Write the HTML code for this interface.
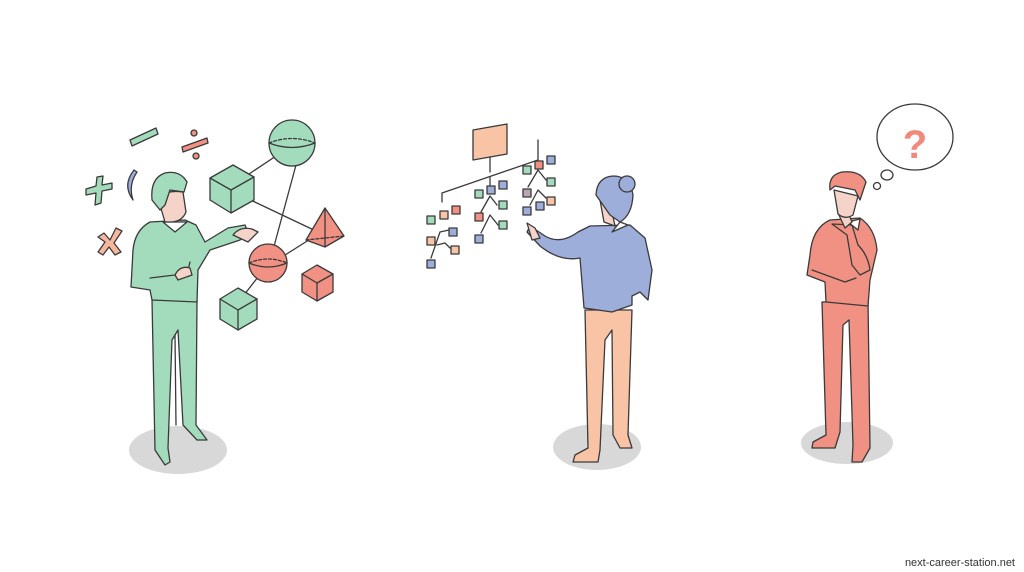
<!DOCTYPE html>
<html><head><meta charset="utf-8"><style>
html,body{margin:0;padding:0;background:#fff;}
svg{display:block}
</style></head><body>
<svg width="1024" height="572" viewBox="0 0 1024 572" xmlns="http://www.w3.org/2000/svg">
<rect width="1024" height="572" fill="#fff"/>
<g stroke="#3a3a3a" stroke-width="1.3" stroke-linejoin="round" stroke-linecap="round">
<ellipse cx="178" cy="450" rx="49" ry="24" fill="#d8d8d8" stroke="none"/>
<line x1="240" y1="180" x2="285" y2="150" />
<line x1="240" y1="195" x2="318" y2="232" />
<line x1="296" y1="165" x2="273" y2="250" />
<line x1="285" y1="255" x2="312" y2="238" />
<line x1="258" y1="277" x2="244" y2="295" />
<circle cx="292" cy="143" r="23" fill="#a3dcbd"/>
<path d="M269 143 Q292 152 315 143" fill="none"/>
<path d="M269 143 Q292 134 315 143" fill="none" stroke-dasharray="3 2"/>
<polygon points="210,178 233,165 254,177 254,200 231,213 210,200" fill="#a3dcbd"/>
<polyline points="210,178 231,190 254,177" fill="none"/>
<line x1="231" y1="190" x2="231" y2="213"/>
<polygon points="325,208 306,240 325,247 344,236" fill="#f19183"/>
<line x1="325" y1="208" x2="325" y2="247"/>
<line x1="306" y1="240" x2="344" y2="236" stroke-dasharray="3 2"/>
<circle cx="268" cy="263" r="19" fill="#f19183"/>
<path d="M249 263 Q268 271 287 263" fill="none"/>
<path d="M249 263 Q268 255 287 263" fill="none" stroke-dasharray="3 2"/>
<polygon points="302,274 317,265 333,274 333,292 317,301 302,292" fill="#f19183"/>
<polyline points="302,274 317,283 333,274" fill="none"/>
<line x1="317" y1="283" x2="317" y2="301"/>
<polygon points="220,299 238,288 257,299 257,319 238,330 220,319" fill="#a3dcbd"/>
<polyline points="220,299 238,310 257,299" fill="none"/>
<line x1="238" y1="310" x2="238" y2="330"/>
<polygon points="130,140 156,128 158,134 132,146" fill="#a3dcbd"/>
<polygon points="182,147 207,138 208,143 183,152" fill="#f19183"/>
<circle cx="194" cy="133" r="3" fill="#f19183"/>
<circle cx="196" cy="156" r="3" fill="#f19183"/>
<path d="M86,189 L96,186 L97,177 L103,176 L102,185 L112,183 L112,189 L102,191 L101,203 L95,205 L96,193 L86,195Z" fill="#a3dcbd"/>
<path d="M134,170 Q122,185 133,200 Q128,185 137,172Z" fill="#9eaedb"/>
<path d="M98,237 L104,233 L110,240 L116,228 L122,231 L114,243 L121,252 L115,255 L109,247 L103,255 L98,252 L105,242Z" fill="#f7b79f"/>
<path d="M152,300 L155,450 L165,465 L170,462 L168,448 L172,340 L178,330 L183,425 L197,440 L207,440 L196,425 L197,300Z" fill="#a3dcbd"/>
<line x1="175" y1="335" x2="176" y2="425"/>
<path d="M150,222 Q135,230 133,250 L131,287 L150,290 L152,300 L197,302 L198,270 L210,250 L240,240 L248,232 L245,225 L228,228 L205,242 L196,225 L185,220 Z" fill="#a3dcbd"/>
<path d="M150,278 L175,275 L188,270 L190,262" fill="none"/>
<path d="M175,275 Q180,265 190,268 L192,275 L178,280Z" fill="#f6d3c8"/>
<polygon points="163,222 175,232 187,222" fill="#fff"/>
<path d="M233,235 Q240,226 252,229 L258,232 L248,242 Z" fill="#f6d3c8"/>
<path d="M160,205 L161,195 Q170,190 183,192 L186,212 Q182,222 170,222 L165,222 Z" fill="#f6d3c8"/>
<path d="M152,200 Q150,178 165,173 Q180,170 187,182 L184,192 L170,190 L165,205 L160,210 Z" fill="#a3dcbd"/>

<ellipse cx="597" cy="447" rx="44" ry="23" fill="#d8d8d8" stroke="none"/>
<polygon points="473,130 507,124 507,154 473,160" fill="#f8c4a5"/>
<polyline points="490,157 490,172" fill="none"/>
<polyline points="442,202 442,193 538,160 538,140" fill="none"/>
<line x1="490" y1="177" x2="490" y2="185"/>
<g>
<rect x="427" y="216" width="8" height="8" fill="#a3dcbd"/>
<rect x="440" y="211" width="8" height="8" fill="#f8c4a5"/>
<rect x="452" y="206" width="8" height="8" fill="#f19183"/>
<rect x="427" y="237" width="8" height="8" fill="#f8c4a5"/>
<rect x="449" y="228" width="8" height="8" fill="#9eaedb"/>
<rect x="427" y="260" width="8" height="8" fill="#9eaedb"/>
<rect x="451" y="246" width="8" height="8" fill="#f8c4a5"/>
<polyline points="431,258 440,232 449,230" fill="none"/>
<polyline points="437,245 445,243 450,248" fill="none"/>
<rect x="475" y="190" width="8" height="8" fill="#a3dcbd"/>
<rect x="487" y="186" width="8" height="8" fill="#9eaedb"/>
<rect x="499" y="181" width="8" height="8" fill="#9eaedb"/>
<rect x="475" y="213" width="8" height="8" fill="#f19183"/>
<rect x="499" y="201" width="8" height="8" fill="#a3dcbd"/>
<rect x="475" y="235" width="8" height="8" fill="#9eaedb"/>
<rect x="499" y="221" width="8" height="8" fill="#a3dcbd"/>
<polyline points="481,212 490,196 497,205" fill="none"/>
<polyline points="481,233 490,215 498,225" fill="none"/>
<rect x="523" y="166" width="8" height="8" fill="#a3dcbd"/>
<rect x="535" y="161" width="8" height="8" fill="#f19183"/>
<rect x="547" y="156" width="8" height="8" fill="#9eaedb"/>
<rect x="523" y="189" width="8" height="8" fill="#b9a8b8"/>
<rect x="547" y="178" width="8" height="8" fill="#a3dcbd"/>
<rect x="523" y="207" width="8" height="8" fill="#9eaedb"/>
<rect x="536" y="202" width="8" height="8" fill="#9eaedb"/>
<rect x="547" y="197" width="8" height="8" fill="#f8c4a5"/>
<polyline points="528,187 538,170 546,180" fill="none"/>
<polyline points="530,205 538,190 546,198" fill="none"/>
</g>
<path d="M585,310 L588,448 L575,455 L573,462 L598,462 L600,450 L605,340 L612,330 L613,435 L620,448 L632,448 L628,435 L632,310Z" fill="#f8c4a5"/>
<path d="M590,226 L578,232 Q560,245 545,236 L530,226 L527,232 L540,246 Q560,262 580,258 L584,308 L612,312 L632,305 L632,296 L640,292 L648,300 L652,270 L645,238 L630,225 Z" fill="#9eaedb"/>
<path d="M527,223 L535,228 L540,238 L532,240 Z" fill="#f6d3c8"/>
<path d="M612,232 L628,225 L620,222 Z" fill="#fff"/>
<path d="M600,200 L604,222 L615,226 L612,212 Z" fill="#f6d3c8"/>
<path d="M596,195 Q597,177 613,176 Q630,176 633,195 Q632,215 620,222 L610,215 Z" fill="#9eaedb"/>
<circle cx="627" cy="184" r="8" fill="#9eaedb"/>

<ellipse cx="847" cy="443" rx="46" ry="21" fill="#d8d8d8" stroke="none"/>
<ellipse cx="915" cy="137" rx="38" ry="33" fill="#fff"/>
<ellipse cx="887" cy="175" rx="6" ry="5" fill="#fff"/>
<circle cx="877" cy="186" r="3.5" fill="#fff"/>
<path d="M822,302 L826,435 L813,442 L812,448 L835,448 L840,432 L843,325 L849,320 L853,445 L852,462 L862,462 L870,448 L868,300 Z" fill="#f19183"/>
<path d="M830,220 Q812,228 810,255 L807,275 L825,282 L826,302 L868,306 L870,280 L877,250 Q875,228 860,218 Z" fill="#f19183"/>
<path d="M832,224 L847,235 L852,265 L860,275 L870,270 Q868,255 858,245 L852,225 Z" fill="#f19183"/>
<path d="M812,270 L845,282 L856,278" fill="none"/>
<polygon points="848,222 858,230 860,219" fill="#fff"/>
<path d="M838,213 L846,208 L852,222 L845,228 Z" fill="#f6d3c8"/>
<path d="M834,190 L838,214 Q845,220 853,215 L858,196 Z" fill="#f6d3c8"/>
<path d="M830,190 Q828,175 842,172 Q860,170 866,182 L860,200 L855,190 L835,186 Z" fill="#f19183"/>
</g>
<text x="915" y="158" text-anchor="middle" font-family="Liberation Sans, sans-serif" font-size="40" font-weight="bold" fill="#f08a7c">?</text>
<text x="1015" y="566" text-anchor="end" font-family="Liberation Sans, sans-serif" font-size="11" fill="#333">next-career-station.net</text>
</svg>
</body></html>
